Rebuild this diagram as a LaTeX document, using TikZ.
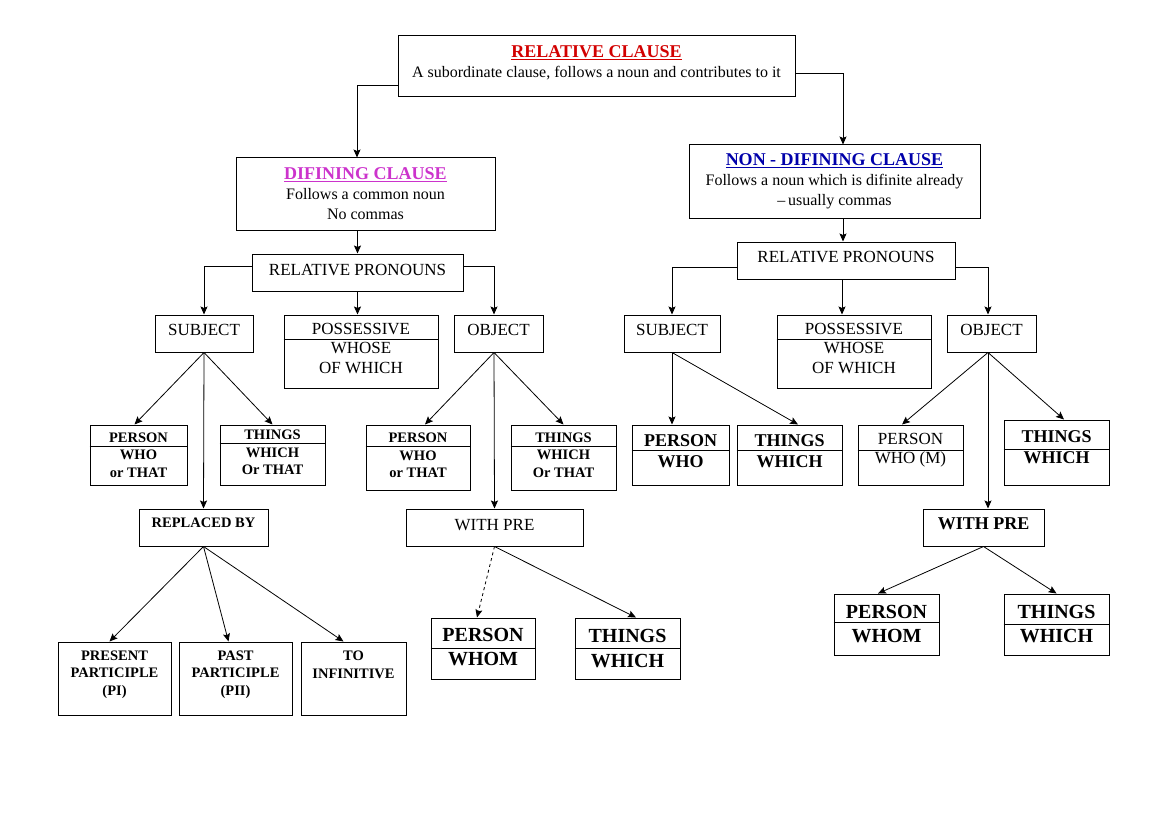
\documentclass[tikz,border=0pt]{standalone}
\usepackage{fontspec}
\setmainfont{Liberation Serif}
\usetikzlibrary{arrows.meta,positioning,calc}
\definecolor{titlered}{RGB}{210,0,0}
\definecolor{titlemagenta}{RGB}{204,51,204}
\definecolor{titleblue}{RGB}{0,0,170}

\begin{document}
\begin{tikzpicture}[x=1pt, y=-1pt,
    box/.style={draw=black, line width=1pt, rectangle, inner sep=0pt, align=center, font=\fontsize{17}{19.5}\selectfont},
    smallbox/.style={box, font=\bfseries\fontsize{14.5}{17.5}\selectfont},
    midbox/.style={box, font=\bfseries\fontsize{18}{21}\selectfont},
    bigbox/.style={box, font=\bfseries\fontsize{20}{24}\selectfont},
    title/.style={box, font=\fontsize{16}{20}\selectfont},
    arrow/.style={-{Stealth[length=8pt, width=7pt, inset=1.5pt]}, line width=0.8pt},
    divider/.style={line width=1pt}
]
\useasboundingbox (0,0) rectangle (1169,821);

% top
\node[title, minimum width=397pt, minimum height=61pt, text depth=9.5pt] (root) at (596.5,66.5) {{\color{titlered}\bfseries\fontsize{18}{21}\selectfont\underline{RELATIVE CLAUSE}}\\A subordinate clause, follows a noun and contributes to it};
\node[title, minimum width=259pt, minimum height=72pt] (defining) at (365.5,194) {{\color{titlemagenta}\bfseries\fontsize{18}{21}\selectfont\underline{DIFINING CLAUSE}}\\Follows a common noun\\No commas};
\node[title, minimum width=291pt, minimum height=73pt] (nondef) at (834.5,181.5) {{\color{titleblue}\bfseries\fontsize{18}{21}\selectfont\underline{NON - DIFINING CLAUSE}}\\Follows a noun which is difinite already\\\textendash\,usually commas};

% defining side
\node[box, minimum width=211pt, minimum height=37pt, text depth=6pt] (lpron) at (357.5,272.5) {RELATIVE PRONOUNS};
\node[box, minimum width=98pt, minimum height=37pt, text depth=8pt] (lsubj) at (204,333.5) {SUBJECT};
\node[box, minimum width=154pt, minimum height=73pt, text depth=7pt] (lposs) at (361,351.5) {POSSESSIVE\\WHOSE\\OF WHICH};
\node[box, minimum width=89pt, minimum height=37pt, text depth=8pt] (lobj) at (498.5,333.5) {OBJECT};
\node[smallbox, minimum width=97pt, minimum height=60pt] (lsperson) at (138.5,455) {PERSON\\WHO\\or THAT};
\node[smallbox, minimum width=105pt, minimum height=60pt, text depth=5pt] (lsthings) at (272.5,455) {THINGS\\WHICH\\Or THAT};
\node[smallbox, minimum width=129pt, minimum height=37pt, text depth=10pt] (replaced) at (203.5,527.5) {REPLACED BY};
\node[smallbox, minimum width=113pt, minimum height=73pt, text depth=11pt] (present) at (114.5,678.5) {PRESENT\\PARTICIPLE\\(PI)};
\node[smallbox, minimum width=113pt, minimum height=73pt, text depth=11pt] (past) at (235.5,678.5) {PAST\\PARTICIPLE\\(PII)};
\node[smallbox, minimum width=105pt, minimum height=73pt, text depth=10pt] (toinf) at (353.5,678.5) {TO\\INFINITIVE\\\mbox{}};
\node[smallbox, minimum width=104pt, minimum height=65pt, text depth=4pt] (loperson) at (418,457.5) {PERSON\\WHO\\or THAT};
\node[smallbox, minimum width=105pt, minimum height=65pt, text depth=5pt] (lothings) at (563.5,457.5) {THINGS\\WHICH\\Or THAT};
\node[box, minimum width=177pt, minimum height=37pt, text depth=6pt] (lwithpre) at (494.5,527.5) {WITH PRE};
\node[bigbox, minimum width=104pt, minimum height=61pt, text depth=3pt] (lwperson) at (483,648.5) {PERSON\\WHOM};
\node[bigbox, minimum width=105pt, minimum height=61pt] (lwthings) at (627.5,648.5) {THINGS\\[1.5pt]WHICH};

% non-defining side
\node[box, minimum width=218pt, minimum height=37pt, text depth=8pt] (rpron) at (846,260.5) {RELATIVE PRONOUNS};
\node[box, minimum width=96pt, minimum height=37pt, text depth=8pt] (rsubj) at (672,333.5) {SUBJECT};
\node[box, minimum width=154pt, minimum height=73pt, text depth=7pt] (rposs) at (854,351.5) {POSSESSIVE\\WHOSE\\OF WHICH};
\node[box, minimum width=89pt, minimum height=37pt, text depth=8pt] (robj) at (991.5,333.5) {OBJECT};
\node[midbox, minimum width=97pt, minimum height=60pt, text depth=8pt] (rsperson) at (680.5,455) {PERSON\\WHO};
\node[midbox, minimum width=105pt, minimum height=60pt, text depth=8pt] (rsthings) at (789.5,455) {THINGS\\WHICH};
\node[box, minimum width=105pt, minimum height=60pt, text depth=13pt] (roperson) at (910.5,455) {PERSON\\WHO (M)};
\node[midbox, minimum width=105pt, minimum height=65pt, text depth=10pt] (rothings) at (1056.5,452.5) {THINGS\\WHICH};
\node[midbox, minimum width=121pt, minimum height=37pt, text depth=8pt] (rwithpre) at (983.5,527.5) {WITH PRE};
\node[bigbox, minimum width=105pt, minimum height=61pt, text depth=2pt] (rwperson) at (886.5,624.5) {PERSON\\WHOM};
\node[bigbox, minimum width=105pt, minimum height=61pt] (rwthings) at (1056.5,624.5) {THINGS\\WHICH};

% dividers
\draw[divider] (lposs.west |- 0,339) -- (lposs.east |- 0,339);
\draw[divider] (rposs.west |- 0,339) -- (rposs.east |- 0,339);
\draw[divider] (lsperson.west |- 0,446) -- (lsperson.east |- 0,446);
\draw[divider] (lsthings.west |- 0,443) -- (lsthings.east |- 0,443);
\draw[divider] (loperson.west |- 0,446) -- (loperson.east |- 0,446);
\draw[divider] (lothings.west |- 0,446) -- (lothings.east |- 0,446);
\draw[divider] (lwperson.west |- 0,648) -- (lwperson.east |- 0,648);
\draw[divider] (lwthings.west |- 0,648) -- (lwthings.east |- 0,648);
\draw[divider] (rsperson.west |- 0,450) -- (rsperson.east |- 0,450);
\draw[divider] (rsthings.west |- 0,450) -- (rsthings.east |- 0,450);
\draw[divider] (roperson.west |- 0,450) -- (roperson.east |- 0,450);
\draw[divider] (rothings.west |- 0,449) -- (rothings.east |- 0,449);
\draw[divider] (rwperson.west |- 0,622) -- (rwperson.east |- 0,622);
\draw[divider] (rwthings.west |- 0,624) -- (rwthings.east |- 0,624);

% connectors
\draw[arrow] ([yshift=-18.5pt]root.west) -| ([xshift=-8.5pt]defining.north);
\draw[arrow] ([yshift=-6.5pt]root.east) -| ([xshift=8.5pt]nondef.north);
\draw[arrow] (defining.south -| lpron.north) -- (lpron.north);
\draw[arrow] ([yshift=6pt]lpron.west) -| (lsubj.north);
\draw[arrow] (lpron.south) -- (lpron.south |- lposs.north);
\draw[arrow] ([yshift=6pt]lpron.east) -| ([xshift=-4.5pt]lobj.north);
\draw[arrow] (lsubj.south) -- ([xshift=-4pt]lsperson.north);
\draw[arrow] (lsubj.south) -- (lsthings.north);
\draw[arrow] (lsubj.south) -- (replaced.north);
\draw[arrow] (replaced.south) -- ([xshift=-5pt]present.north);
\draw[arrow] (replaced.south) -- ([xshift=-7pt]past.north);
\draw[arrow] (replaced.south) -- ([xshift=-10pt]toinf.north);
\draw[arrow] ([xshift=-4.5pt]lobj.south) -- ([xshift=7pt]loperson.north);
\draw[arrow] ([xshift=-4.5pt]lobj.south) -- (lothings.north);
\draw[arrow] ([xshift=-4.5pt]lobj.south) -- (lwithpre.north);
\draw[arrow, dashed] (lwithpre.south) -- ([xshift=-6pt]lwperson.north);
\draw[arrow] (lwithpre.south) -- ([xshift=8.5pt]lwthings.north);

\draw[arrow] (nondef.south -| 843,0) -- ([xshift=-3pt]rpron.north);
\draw[arrow] ([yshift=-6.5pt]rpron.west) -| (rsubj.north);
\draw[arrow] ([xshift=-4pt]rpron.south) -- ([xshift=-4pt]rpron.south |- rposs.north);
\draw[arrow] ([yshift=-6.5pt]rpron.east) -| ([xshift=-3.5pt]robj.north);
\draw[arrow] (rsubj.south) -- (rsubj.south |- rsperson.north);
\draw[arrow] (rsubj.south) -- ([xshift=8.5pt]rsthings.north);
\draw[arrow] ([xshift=-3.5pt]robj.south) -- ([xshift=-8.5pt]roperson.north);
\draw[arrow] ([xshift=-3.5pt]robj.south) -- ([xshift=7.5pt]rothings.north);
\draw[arrow] ([xshift=-3.5pt]robj.south) -- ([xshift=4.5pt]rwithpre.north);
\draw[arrow] (rwithpre.south) -- ([xshift=-8.5pt]rwperson.north);
\draw[arrow] (rwithpre.south) -- (rwthings.north);

\end{tikzpicture}
\end{document}
